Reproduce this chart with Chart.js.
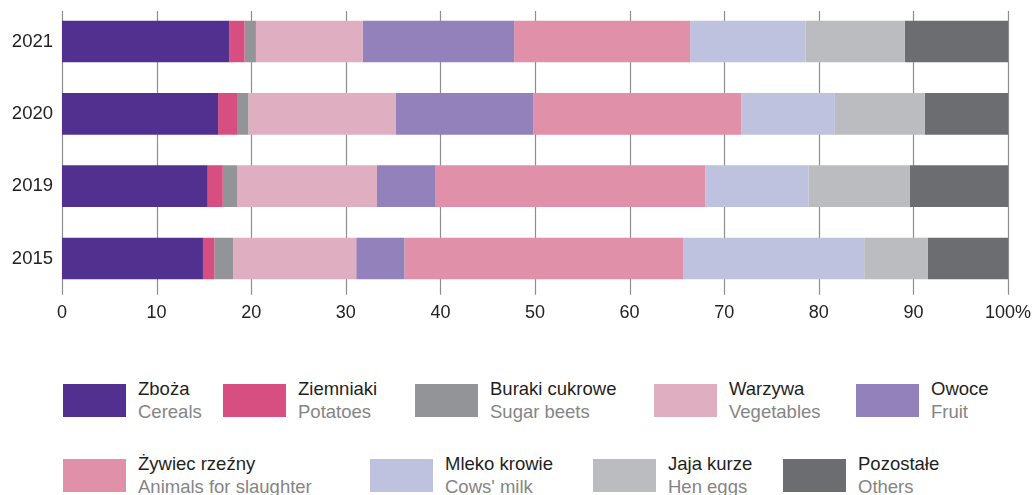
<!DOCTYPE html>
<html>
<head>
<meta charset="utf-8">
<script src="https://cdn.jsdelivr.net/npm/chart.js@4"></script>
<style>
  html, body { margin: 0; padding: 0; background: #ffffff; }
  body { width: 1032px; height: 495px; position: relative; overflow: hidden;
         font-family: "Liberation Sans", Arial, sans-serif; }
  #wrap { position: absolute; left: 0; top: 0; width: 1032px; height: 335px; }
  .item { position: absolute; height: 34px; }
  .sw { position: absolute; left: 0; width: 63px; height: 33px; }
  .txt { position: absolute; left: 75px; top: -6px; white-space: nowrap;
         font-size: 18.5px; line-height: 22.5px; }
  .pl { color: #1f1f1f; }
  .en { color: #858585; }
</style>
</head>
<body>
<div id="wrap"><canvas id="c" width="1032" height="335"></canvas></div>
<div id="legend"></div>
<script>
// Years shown on the category axis, top to bottom
const years = ['2021', '2020', '2019', '2015'];

// Share of each product group in output, percent, per year
const zboza     = [17.7, 16.5, 15.4, 14.9];
const ziemniaki = [1.6, 2.0, 1.6, 1.2];
const buraki    = [1.2, 1.2, 1.5, 2.0];
const warzywa   = [11.3, 15.6, 14.8, 13.0];
const owoce     = [16.0, 14.5, 6.2, 5.1];
const zywiec    = [18.6, 22.0, 28.5, 29.5];
const mleko     = [12.2, 9.9, 10.9, 19.1];
const jaja      = [10.5, 9.5, 10.7, 6.7];
const pozostale = [10.9, 8.8, 10.4, 8.5];

// Series names (Polish / English)
const namesPl = ['Zboża', 'Ziemniaki', 'Buraki cukrowe', 'Warzywa', 'Owoce',
                 'Żywiec rzeźny', 'Mleko krowie', 'Jaja kurze', 'Pozostałe'];
const namesEn = ['Cereals', 'Potatoes', 'Sugar beets', 'Vegetables', 'Fruit',
                 'Animals for slaughter', "Cows' milk", 'Hen eggs', 'Others'];

// Axis ticks
const xTicks = [0, 10, 20, 30, 40, 50, 60, 70, 80, 90, 100];

const series = [zboza, ziemniaki, buraki, warzywa, owoce, zywiec, mleko, jaja, pozostale];
const colors = ['#52308f', '#d64f80', '#939497', '#e0aec1', '#9381bb',
                '#e090a8', '#bec2de', '#bbbcbf', '#6c6d71'];

// Legend placement: [row, left px]
const legendSlots = [[0, 63], [0, 223], [0, 415], [0, 654], [0, 856],
                     [1, 63], [1, 370], [1, 593], [1, 783]];
const legendRowTop = [384, 459];

const legend = document.getElementById('legend');
namesPl.forEach((pl, i) => {
  const [row, left] = legendSlots[i];
  const it = document.createElement('div');
  it.className = 'item';
  it.style.left = left + 'px';
  it.style.top = legendRowTop[row] + 'px';
  const sw = document.createElement('div');
  sw.className = 'sw';
  sw.style.background = colors[i];
  const tx = document.createElement('div');
  tx.className = 'txt';
  tx.innerHTML = '<div class="pl"></div><div class="en"></div>';
  tx.children[0].textContent = pl;
  tx.children[1].textContent = namesEn[i];
  it.appendChild(sw);
  it.appendChild(tx);
  legend.appendChild(it);
});

// Vertical grid lines drawn behind the bars, starting a little below the top
const gridPlugin = {
  id: 'vgrid',
  beforeDatasetsDraw(chart) {
    const { ctx, chartArea, scales } = chart;
    const xs = scales.x;
    ctx.save();
    ctx.strokeStyle = '#8e8e8e';
    ctx.lineWidth = 1.2;
    xs.ticks.forEach((t, i) => {
      const px = Math.round(xs.getPixelForTick(i)) + 0.5;
      ctx.beginPath();
      ctx.moveTo(px, 11);
      ctx.lineTo(px, chartArea.bottom);
      ctx.stroke();
    });
    ctx.restore();
  }
};

const font = { family: '"Liberation Sans", Arial, sans-serif', size: 18 };

new Chart(document.getElementById('c'), {
  type: 'bar',
  data: {
    labels: years,
    datasets: series.map((d, i) => ({
      label: namesPl[i],
      data: d,
      backgroundColor: colors[i],
      borderWidth: 0,
      categoryPercentage: 1,
      barPercentage: 0.575
    }))
  },
  options: {
    indexAxis: 'y',
    responsive: false,
    animation: false,
    layout: { autoPadding: false, padding: { top: 5.3, right: 24, left: 0, bottom: 0 } },
    plugins: { legend: { display: false }, tooltip: { enabled: false } },
    scales: {
      x: {
        stacked: true,
        min: 0,
        max: 100,
        grid: { display: false, drawTicks: false },
        border: { display: false },
        afterBuildTicks(scale) { scale.ticks = xTicks.map(v => ({ value: v })); },
        afterFit(scale) {
          scale.height = 335 - 294.7;
          scale.paddingLeft = 0; scale.paddingRight = 0;
        },
        ticks: {
          padding: 8,
          color: '#222222',
          font,
          maxRotation: 0,
          autoSkip: false,
          callback: v => (v === 100 ? '100%' : String(v))
        }
      },
      y: {
        stacked: true,
        grid: { display: false, drawTicks: false },
        border: { display: false },
        afterFit(scale) {
          scale.width = 62;
          scale.paddingTop = 0; scale.paddingBottom = 0;
        },
        ticks: { padding: 9, color: '#222222', font: { ...font, size: 18.5 } }
      }
    }
  },
  plugins: [gridPlugin]
});
</script>
</body>
</html>
